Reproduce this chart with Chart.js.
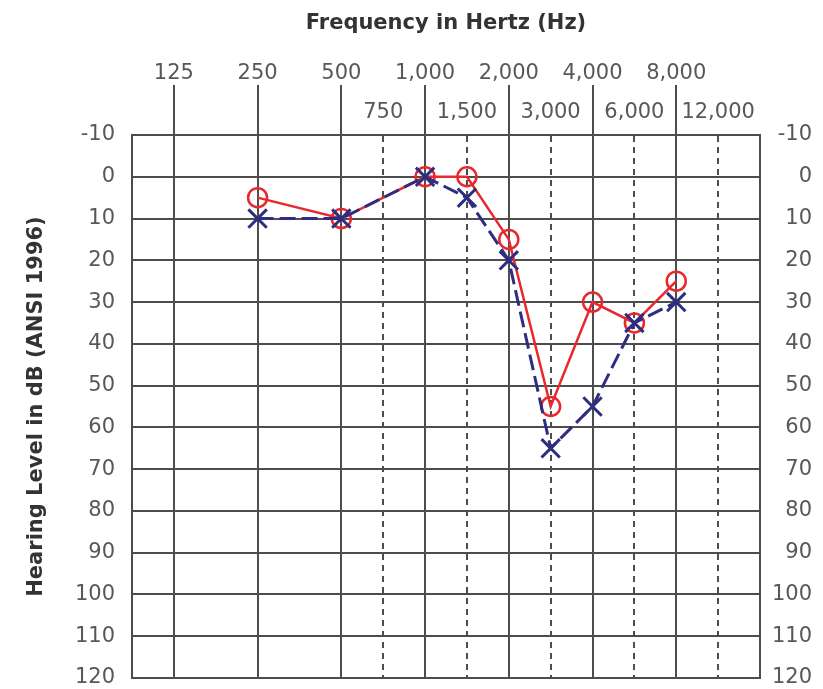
<!DOCTYPE html>
<html>
<head>
<meta charset="utf-8">
<script src="https://cdn.jsdelivr.net/npm/chart.js@4/dist/chart.umd.min.js"></script>
<style>
    html, body { margin: 0; padding: 0; background: #fff; overflow: hidden; }
    #wrap { width: 823px; height: 694px; }
</style>
</head>
<body>
<div id="wrap"><canvas id="chart" width="823" height="694"></canvas></div>
<script>
// audiogram values
const freqTicks = [125, 250, 500, 750, 1000, 1500, 2000, 3000, 4000, 6000, 8000, 12000]
const freqs = [250, 500, 1000, 1500, 2000, 3000, 4000, 6000, 8000]
const rightEar = [5, 10, 0, 0, 15, 55, 30, 35, 25]   // O, red
const leftEar = [10, 10, 0, 5, 20, 65, 55, 35, 30]   // X, blue
const dbTicks = [-10, 0, 10, 20, 30, 40, 50, 60, 70, 80, 90, 100, 110, 120]

// audiograms put the half octaves (750, 1500 ...) midway between octaves
function octPos(f) {
    return Math.round(2 * Math.log2(f / 125)) / 2
}
function isOctave(f) {
    return Number.isInteger(Math.log2(f / 125))
}

const gridColor = '#4d4d4d'
const tickFont = { family: 'DejaVu Sans', size: 21, lineHeight: 1.85 }
const yTickFont = { family: 'DejaVu Sans', size: 21, lineHeight: 0.9 }
const titleFont = { family: 'DejaVu Sans', size: 21, weight: 'bold' }

// keep the y label overhang from pushing the plot up
function trimPadding(axis) {
    axis.paddingTop = 0
    axis.paddingBottom = 0
}

const ctx = document.getElementById('chart').getContext('2d')

const chart = new Chart(ctx, {
    type: 'line',
    data: {
        datasets: [{
            label: 'Left',
            data: freqs.map((f, i) => ({ x: octPos(f), y: leftEar[i] })),
            borderColor: '#2d2e80',
            borderWidth: 3,
            borderDash: [16, 6],
            pointStyle: 'crossRot',
            pointRadius: 13,
            pointBorderWidth: 3,
            pointBorderColor: '#2d2e80',
            backgroundColor: 'transparent',
            fill: false
        }, {
            label: 'Right',
            data: freqs.map((f, i) => ({ x: octPos(f), y: rightEar[i] })),
            borderColor: '#e8282c',
            borderWidth: 2.5,
            pointStyle: 'circle',
            pointRadius: 9.5,
            pointBorderWidth: 2.5,
            pointBorderColor: '#e8282c',
            pointBackgroundColor: 'transparent',
            backgroundColor: 'transparent',
            fill: false
        }]
    },
    options: {
        responsive: false,
        animation: false,
        layout: { padding: { left: 0, right: 11, top: 0, bottom: 12 } },
        plugins: {
            legend: { display: false },
            tooltip: { enabled: false }
        },
        scales: {
            x: {
                type: 'linear',
                position: 'top',
                min: -0.5,
                max: 7,
                afterBuildTicks: axis => {
                    axis.ticks = freqTicks.map(f => ({ value: octPos(f) }))
                },
                afterFit: axis => { axis.height = 135 },
                ticks: {
                    autoSkip: false,
                    maxRotation: 0,
                    minRotation: 0,
                    padding: -47,
                    color: '#585858',
                    font: tickFont,
                    callback: (v, i) => {
                        const f = freqTicks[i]
                        const txt = f.toLocaleString('en-US')
                        return isOctave(f) ? [txt, ''] : txt
                    }
                },
                grid: {
                    color: gridColor,
                    lineWidth: 2,
                    tickLength: 50,
                    tickWidth: 2,
                    tickColor: c => c.tick && isOctave(freqTicks[c.index]) ? gridColor : 'transparent'
                },
                border: {
                    display: true,
                    color: gridColor,
                    width: 2,
                    dash: c => c.tick && !isOctave(freqTicks[c.index]) ? [6, 5] : []
                },
                title: {
                    display: true,
                    text: 'Frequency in Hertz (Hz)',
                    color: '#333',
                    font: titleFont,
                    padding: { top: 11, bottom: 0 }
                }
            },
            y: {
                position: 'left',
                reverse: true,
                min: -10,
                max: 120,
                afterBuildTicks: axis => {
                    axis.ticks = dbTicks.map(v => ({ value: v }))
                },
                afterFit: axis => {
                    axis.width = 132
                    trimPadding(axis)
                },
                ticks: {
                    padding: 17,
                    color: '#585858',
                    font: yTickFont
                },
                grid: {
                    color: gridColor,
                    lineWidth: 2,
                    drawTicks: false
                },
                border: { display: true, color: gridColor, width: 2 },
                title: {
                    display: true,
                    text: 'Hearing Level in dB (ANSI 1996)',
                    color: '#333',
                    font: titleFont,
                    padding: { top: 24, bottom: 0 }
                }
            },
            y2: {
                position: 'right',
                reverse: true,
                min: -10,
                max: 120,
                afterBuildTicks: axis => {
                    axis.ticks = dbTicks.map(v => ({ value: v }))
                },
                afterFit: axis => {
                    axis.width = 52
                    trimPadding(axis)
                },
                ticks: {
                    crossAlign: 'far',
                    padding: 0,
                    color: '#585858',
                    font: yTickFont
                },
                grid: { drawOnChartArea: false, drawTicks: false },
                border: { display: true, color: gridColor, width: 2 }
            }
        }
    }
})
</script>
</body>
</html>
